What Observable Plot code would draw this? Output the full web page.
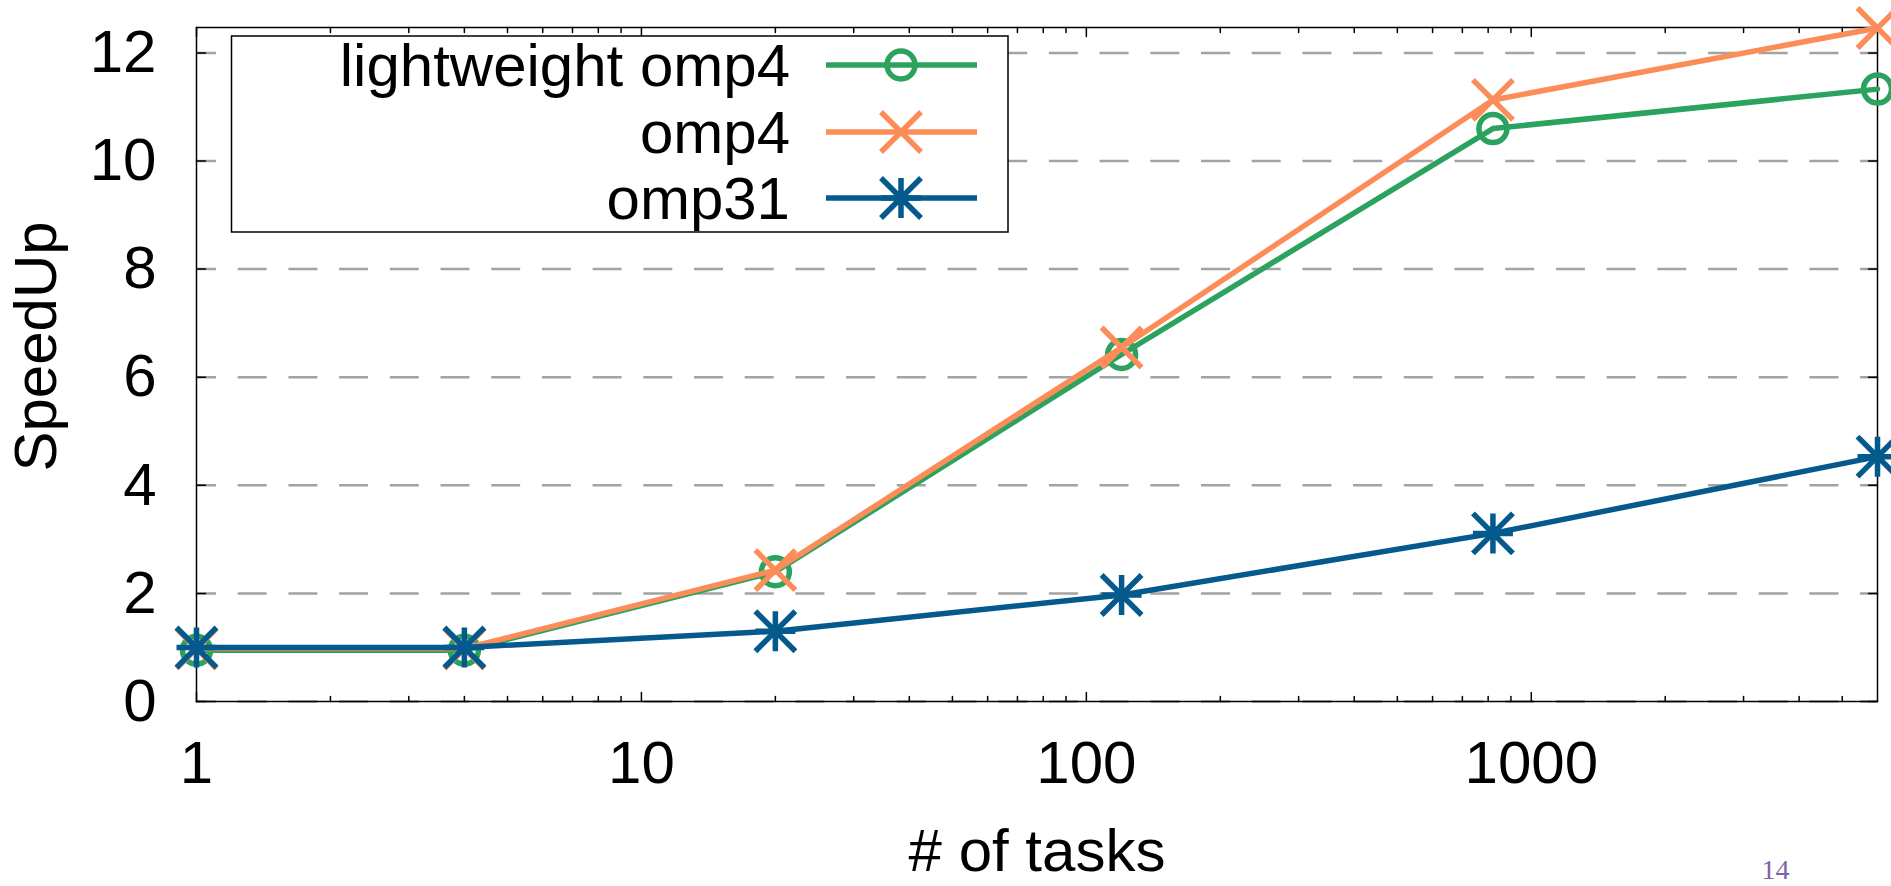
<!DOCTYPE html>
<html><head><meta charset="utf-8">
<script src="https://cdn.jsdelivr.net/npm/d3@7"></script>
<script src="https://cdn.jsdelivr.net/npm/@observablehq/plot@0.6"></script>
<style>
html,body{margin:0;padding:0;background:#fff;}
#wrap{position:relative;width:1891px;height:886px;overflow:hidden;}
</style></head><body>
<div id="wrap"></div>
<script>
// ---- data ----
const tasks = [1, 4, 20, 120, 820, 6000];
const lightweightOmp4 = [0.95, 0.95, 2.40, 6.42, 10.60, 11.33];
const omp4 = [0.98, 0.98, 2.43, 6.55, 11.13, 12.46];
const omp31 = [1.00, 1.00, 1.30, 1.97, 3.11, 4.53];
const seriesNames = ["lightweight omp4", "omp4", "omp31"];
const seriesColors = ["#2ca25f", "#fc8d59", "#045a8d"];
const seriesSymbols = ["circle", "times", "star"];
const yTicks = [0, 2, 4, 6, 8, 10, 12];
const xTicks = [1, 10, 100, 1000];
const xMinorTicks = [2, 3, 4, 5, 6, 7, 8, 9, 20, 30, 40, 50, 60, 70, 80, 90,
  200, 300, 400, 500, 600, 700, 800, 900, 2000, 3000, 4000, 5000];
const xDomain = [1, 6000];
const yDomain = [0, 12.47];
const xLabel = "# of tasks";
const yLabel = "SpeedUp";
const pageNumber = "14";

const seriesValues = [lightweightOmp4, omp4, omp31];
const table = seriesNames.map((name, s) => tasks.map((t, i) => ({series: name, tasks: t, speedup: seriesValues[s][i]})));

const FONT = '"Liberation Sans", Arial, Helvetica, sans-serif';
const LW = 5.5;

const symbols = {
  circle: {draw(ctx, size) { const r = Math.sqrt(size / Math.PI); ctx.moveTo(r, 0); ctx.arc(0, 0, r, 0, 2 * Math.PI); }},
  times: {draw(ctx, size) { const r = Math.sqrt(size / Math.PI); ctx.moveTo(-r, -r); ctx.lineTo(r, r); ctx.moveTo(-r, r); ctx.lineTo(r, -r); }},
  star: {draw(ctx, size) { const r = Math.sqrt(size / Math.PI);
    ctx.moveTo(-r, -r); ctx.lineTo(r, r); ctx.moveTo(-r, r); ctx.lineTo(r, -r);
    ctx.moveTo(0, -r); ctx.lineTo(0, r); ctx.moveTo(-r, 0); ctx.lineTo(r, 0); }}
};
const symbolR = {circle: 14, times: 20, star: 20};

const tickShape = {draw(ctx, l) { ctx.moveTo(0, 0); ctx.lineTo(0, -l); }};
const tickOpts = {shape: tickShape, anchor: "start", stroke: "black", strokeWidth: 1.5};

const marks = [
  Plot.ruleY(yTicks, {y: d => d, stroke: "#a3a3a3", strokeWidth: 2.5, strokeDasharray: "29,21.7", strokeDashoffset: 9}),
  Plot.frame({stroke: "black", strokeWidth: 1.5}),
  // inward ticks
  Plot.vector(yTicks, {y: d => d, frameAnchor: "left", rotate: 90, length: 9, ...tickOpts}),
  Plot.vector(yTicks, {y: d => d, frameAnchor: "right", rotate: -90, length: 9, ...tickOpts}),
  Plot.vector(xTicks, {x: d => d, frameAnchor: "bottom", rotate: 0, length: 9, ...tickOpts}),
  Plot.vector(xTicks, {x: d => d, frameAnchor: "top", rotate: 180, length: 9, ...tickOpts}),
  Plot.vector(xMinorTicks, {x: d => d, frameAnchor: "bottom", rotate: 0, length: 5, ...tickOpts}),
  Plot.vector(xMinorTicks, {x: d => d, frameAnchor: "top", rotate: 180, length: 5, ...tickOpts}),
  Plot.axisY({ticks: yTicks, tickSize: 0, tickPadding: 40, fontSize: 60, label: null}),
  Plot.axisX({ticks: xTicks, tickFormat: d3.format("d"), tickSize: 0, tickPadding: 39, fontSize: 60, label: null}),
  Plot.text([xLabel], {text: d => d, frameAnchor: "bottom", textAnchor: "middle", dy: 150, lineAnchor: "middle", fontSize: 60}),
  Plot.text([yLabel], {text: d => d, frameAnchor: "left", textAnchor: "middle", dx: -160, dy: -18, rotate: -90, lineAnchor: "middle", fontSize: 60}),
  Plot.text([pageNumber], {text: d => d, frameAnchor: "bottom-right", textAnchor: "middle", dx: -102, dy: 169, lineAnchor: "middle",
    fontSize: 28, fontFamily: '"Liberation Serif", "DejaVu Serif", serif', fill: "#7f63a6"})
];

table.forEach((rows, s) => {
  marks.push(Plot.line(rows, {x: "tasks", y: "speedup", stroke: seriesColors[s], strokeWidth: LW, strokeLinejoin: "round"}));
  const sym = seriesSymbols[s];
  marks.push(Plot.dot(rows, {x: "tasks", y: "speedup", symbol: symbols[sym], r: symbolR[sym], fill: "none",
    stroke: seriesColors[s], strokeWidth: LW, strokeLinecap: "butt"}));
});

const chart = Plot.plot({
  width: 1891, height: 886,
  marginLeft: 196, marginRight: 14, marginTop: 27, marginBottom: 185,
  x: {type: "log", domain: xDomain},
  y: {type: "linear", domain: yDomain},
  style: {fontFamily: FONT, fontSize: "60px", background: "white", color: "black", overflow: "visible"},
  marks
});
document.getElementById("wrap").prepend(chart);

// ---- legend (inside the plot frame, top-left) ----
const svg = d3.select(chart);
const lg = svg.append("g").attr("font-family", FONT).attr("font-size", 60);
lg.append("rect").attr("x", 231.5).attr("y", 36).attr("width", 776.5).attr("height", 196)
  .attr("fill", "white").attr("stroke", "black").attr("stroke-width", 1.5);
const rowY = [65, 132, 198];
seriesNames.forEach((name, s) => {
  const y = rowY[s];
  lg.append("text").attr("x", 790).attr("y", y).attr("dy", "0.35em").attr("text-anchor", "end").attr("fill", "black").text(name);
  lg.append("line").attr("x1", 826).attr("x2", 977).attr("y1", y).attr("y2", y)
    .attr("stroke", seriesColors[s]).attr("stroke-width", LW);
  const sym = seriesSymbols[s];
  const r = symbolR[sym];
  lg.append("path").attr("transform", `translate(901,${y})`)
    .attr("d", d3.symbol(symbols[sym], r * r * Math.PI)())
    .attr("fill", "none").attr("stroke", seriesColors[s]).attr("stroke-width", LW);
});
</script>
</body></html>
